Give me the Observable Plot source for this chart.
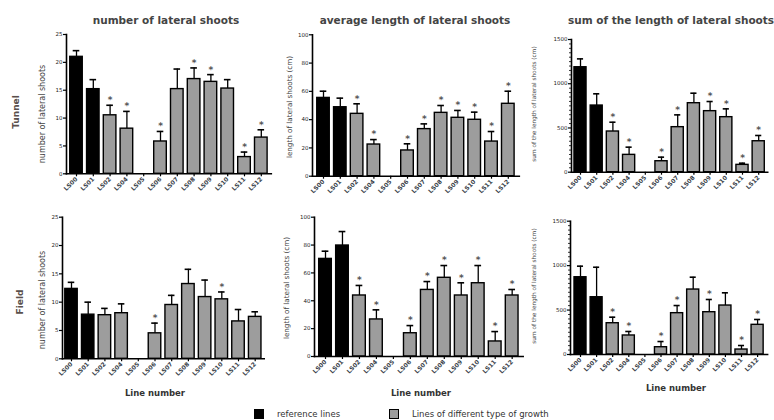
<!DOCTYPE html>
<html><head><meta charset="utf-8">
<script src="https://cdn.jsdelivr.net/npm/d3@7"></script>
<script src="https://cdn.jsdelivr.net/npm/@observablehq/plot@0.6"></script>
<style>
html,body{margin:0;padding:0;background:#fff;overflow:hidden}
#wrap{position:relative;width:774px;height:420px;font-family:"DejaVu Sans",sans-serif;overflow:hidden;background:#fff}
#wrap svg{position:absolute;left:0;top:0;overflow:visible}
.t{position:absolute;white-space:nowrap;line-height:1}
.rot{transform:translate(-50%,-50%) rotate(-90deg)}
</style></head><body><div id="wrap"></div>
<script>
// ---- data ----
const lines = ["LS00","LS01","LS02","LS04","LS05","LS06","LS07","LS08","LS09","LS10","LS11","LS12"];
const referenceLines = ["LS00","LS01"];

const tunnelNumber    = [21.0, 15.2, 10.5, 8.1, 0, 5.8, 15.2, 17.0, 16.5, 15.3, 3.0, 6.5];
const tunnelNumberTop = [22.1, 16.9, 12.3, 11.2, 0, 7.6, 18.8, 19.0, 17.8, 16.9, 3.9, 7.9];
const tunnelNumberSig = ["LS02","LS04","LS06","LS08","LS09","LS11","LS12"];

const tunnelLength    = [55.4, 48.8, 44.1, 22.4, 0, 18.2, 33.3, 44.8, 41.3, 39.9, 24.5, 51.2];
const tunnelLengthTop = [60.1, 55.2, 51.2, 25.9, 0, 22.9, 37.0, 50.0, 46.5, 45.3, 31.6, 60.1];
const tunnelLengthSig = ["LS02","LS04","LS06","LS07","LS08","LS09","LS10","LS11","LS12"];

const tunnelSum    = [1187, 754, 460, 196, 0, 124, 509, 780, 690, 622, 83, 350];
const tunnelSumTop = [1281, 886, 565, 283, 0, 170, 648, 893, 799, 716, 102, 415];
const tunnelSumSig = ["LS02","LS04","LS06","LS07","LS09","LS10","LS11","LS12"];

const fieldNumber    = [12.35, 7.8, 7.7, 8.05, 0, 4.5, 9.5, 13.2, 10.9, 10.5, 6.6, 7.4];
const fieldNumberTop = [13.5, 10.0, 8.9, 9.7, 0, 6.3, 11.2, 15.8, 13.9, 11.8, 8.7, 8.3];
const fieldNumberSig = ["LS06","LS10"];

const fieldLength    = [70.1, 79.7, 43.8, 26.6, 0, 16.7, 47.8, 56.5, 43.8, 52.6, 10.8, 43.8];
const fieldLengthTop = [75.6, 89.7, 51.0, 33.5, 0, 22.2, 53.8, 65.3, 52.9, 65.3, 17.9, 48.1];
const fieldLengthSig = ["LS02","LS04","LS06","LS07","LS08","LS09","LS10","LS11","LS12"];

const fieldSum    = [870, 645, 352, 214, 0, 82, 465, 731, 476, 551, 56, 334];
const fieldSumTop = [994, 982, 420, 259, 0, 146, 551, 870, 619, 694, 101, 394];
const fieldSumSig = ["LS02","LS04","LS06","LS07","LS09","LS11","LS12"];

const countTicks = [0, 5, 10, 15, 20, 25];
const lengthTicks = [0, 20, 40, 60, 80, 100];
const sumTicks = [0, 500, 1000, 1500];

const titles = ["number of lateral shoots", "average length of lateral shoots", "sum of the length of lateral shoots"];
const yLabels = ["number of lateral shoots", "length of lateral shoots (cm)", "sum of the length of lateral shoots (cm)"];
const rowLabels = ["Tunnel", "Field"];
const xLabel = "Line number";
const legendLabels = ["reference lines", "Lines of different type of growth"];

// ---- layout ----
const W = 774, H = 420;
const panels = [
  {v: tunnelNumber, top: tunnelNumberTop, sig: tunnelNumberSig, ticks: countTicks, minor: null, axis: 66, c0: 76, step: 16.8, yTop: 34, y0: 173.3},
  {v: tunnelLength, top: tunnelLengthTop, sig: tunnelLengthSig, ticks: lengthTicks, minor: null, axis: 312, c0: 323, step: 16.8, yTop: 34.3, y0: 175.7},
  {v: tunnelSum, top: tunnelSumTop, sig: tunnelSumSig, ticks: sumTicks, minor: 50, axis: 571, c0: 580, step: 16.2, yTop: 39, y0: 171.7},
  {v: fieldNumber, top: fieldNumberTop, sig: fieldNumberSig, ticks: countTicks, minor: null, axis: 62, c0: 71, step: 16.7, yTop: 216.7, y0: 358.3},
  {v: fieldLength, top: fieldLengthTop, sig: fieldLengthSig, ticks: lengthTicks, minor: null, axis: 314, c0: 325, step: 16.97, yTop: 216.7, y0: 356},
  {v: fieldSum, top: fieldSumTop, sig: fieldSumSig, ticks: sumTicks, minor: 50, axis: 570, c0: 580, step: 16.1, yTop: 220.7, y0: 354}
];

const wrap = document.getElementById("wrap");
const PI = 0.25;
const GRAY = "#9d9d9d";

for (const p of panels) {
  const rows = lines.map((cat, i) => ({cat, v: p.v[i], top: p.top[i], ref: referenceLines.includes(cat), sig: p.sig.includes(cat)}));
  const present = rows.filter(d => d.v > 0);
  const po = (p.c0 - p.axis) / p.step - (1 - PI) / 2;
  const end = p.axis + p.step * (lines.length - PI + 2 * po);
  const yMax = p.ticks[p.ticks.length - 1];
  const marks = [
    Plot.ruleX(present, {x: "cat", y1: "v", y2: "top", stroke: "#000", strokeWidth: 1.3}),
    Plot.tickY(present, {x: "cat", y: "top", stroke: "#000", strokeWidth: 1.6, insetLeft: 3, insetRight: 3}),
    Plot.barY(present.filter(d => d.ref), {x: "cat", y: "v", fill: "#000", stroke: "#000", strokeWidth: 1.3}),
    Plot.barY(present.filter(d => !d.ref), {x: "cat", y: "v", fill: GRAY, stroke: "#000", strokeWidth: 1.4}),
    Plot.text(rows.filter(d => d.sig), {x: "cat", y: "top", text: () => "*", dy: -5, fontSize: 9, fontWeight: "bold", lineAnchor: "middle", fill: "#555"}),
    Plot.axisY({ticks: p.ticks, tickSize: 3, tickPadding: 1, fontSize: 5.5, label: null, strokeWidth: 1.2, tickFormat: d => String(d), fill: "#222"}),
    Plot.axisX({tickSize: 3, tickRotate: -45, fontSize: 6, fontWeight: "bold", label: null, tickPadding: 1.5, strokeWidth: 1.2, fill: "#3a3f4a"}),
    Plot.frame({anchor: "left", stroke: "#000", strokeWidth: 1.6}),
    Plot.frame({anchor: "bottom", stroke: "#000", strokeWidth: 1.6})
  ];
  if (p.minor) {
    const minorTicks = d3.range(0, yMax + 1, p.minor).filter(t => !p.ticks.includes(t));
    marks.push(Plot.axisY({ticks: minorTicks, tickSize: 2, label: null, strokeWidth: 0.8, tickFormat: () => ""}));
  }
  const svg = Plot.plot({
    width: W, height: H,
    marginLeft: p.axis, marginRight: W - end, marginTop: p.yTop, marginBottom: H - p.y0,
    style: {background: "transparent", fontFamily: "DejaVu Sans, sans-serif", overflow: "visible"},
    x: {type: "band", domain: lines, paddingInner: PI, paddingOuter: po, round: false},
    y: {domain: [0, yMax]},
    marks
  });
  wrap.appendChild(svg);
}

function addText(txt, x, y, opts) {
  const d = document.createElement("div");
  d.className = "t" + (opts.rot ? " rot" : "");
  d.textContent = txt;
  d.style.left = x + "px";
  d.style.top = y + "px";
  d.style.fontSize = opts.size + "px";
  if (opts.bold) d.style.fontWeight = "bold";
  d.style.color = opts.color || "#333";
  if (!opts.rot) d.style.transform = opts.center ? "translate(-50%,-50%)" : "translate(0,-50%)";
  wrap.appendChild(d);
}

// titles
addText(titles[0], 166, 20, {size: 10.5, bold: true, center: true, color: "#444"});
addText(titles[1], 415, 20, {size: 10.5, bold: true, center: true, color: "#444"});
addText(titles[2], 568, 20, {size: 10.5, bold: true, color: "#444"});
// row labels
addText(rowLabels[0], 15.5, 112, {size: 9, bold: true, rot: true, color: "#5a504c"});
addText(rowLabels[1], 20, 302, {size: 9, bold: true, rot: true, color: "#5a504c"});
// y labels
const yl = [[43, 114, 8, 0], [290, 107, 7.2, 1], [535, 104, 5.8, 2], [43, 300, 8, 0], [287, 288, 7.2, 1], [535, 286, 5.8, 2]];
for (const [x, y, s, k] of yl) addText(yLabels[k], x, y, {size: s, rot: true, color: "#444"});
// x labels
for (const [x, y] of [[155, 393], [421, 393], [676, 388]]) addText(xLabel, x, y, {size: 8.5, bold: true, center: true, color: "#333"});
// legend
function sq(x, y, fill) {
  const d = document.createElement("div");
  d.style.cssText = `position:absolute;left:${x}px;top:${y}px;width:10px;height:10px;background:${fill};border:1.5px solid #000;box-sizing:border-box`;
  wrap.appendChild(d);
}
sq(254, 409, "#000");
addText(legendLabels[0], 277, 414, {size: 8.5, color: "#333"});
sq(389, 409, GRAY);
addText(legendLabels[1], 412, 414, {size: 8.5, color: "#333"});
</script></body></html>
